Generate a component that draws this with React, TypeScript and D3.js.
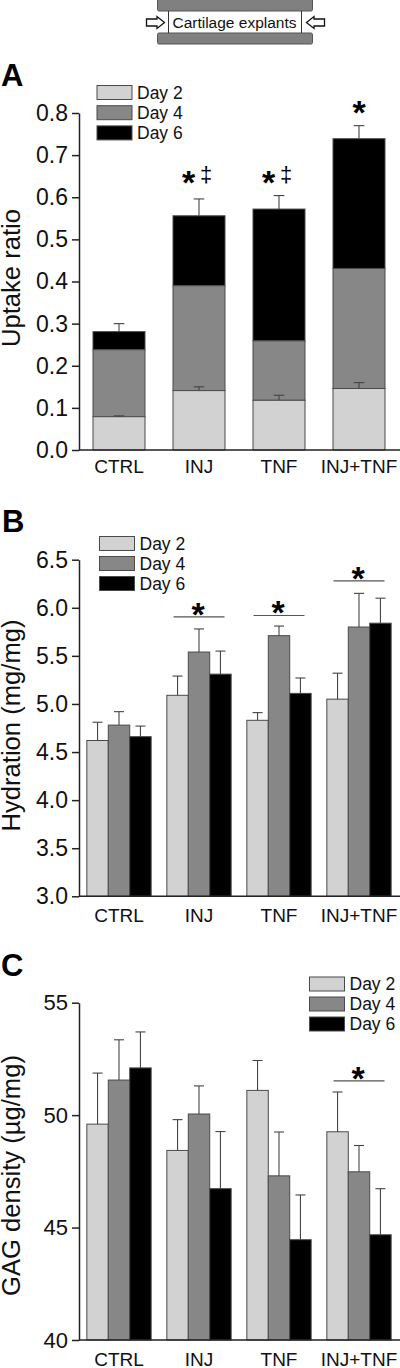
import React, { useEffect, useRef } from 'react';
import * as d3 from 'd3';

const groups = ['CTRL', 'INJ', 'TNF', 'INJ+TNF'];
const days = ['Day 2', 'Day 4', 'Day 6'];
const dayColors = ['#d2d2d2', '#878787', '#000000'];

// panel A, stacked. cumulative tops
const uptakeDay2Top = [0.079, 0.141, 0.118, 0.146];
const uptakeDay4Top = [0.238, 0.39, 0.259, 0.431];
const uptakeDay6Top = [0.281, 0.556, 0.572, 0.739];
const uptakeDay2Err = [0.081, 0.15, 0.13, 0.16];
const uptakeDay6Err = [0.3, 0.596, 0.604, 0.77];
const uptakeTicks = [0, 0.1, 0.2, 0.3, 0.4, 0.5, 0.6, 0.7, 0.8];

// panel B
const hydrationDay2 = [4.62, 5.09, 4.83, 5.05];
const hydrationDay4 = [4.78, 5.54, 5.71, 5.8];
const hydrationDay6 = [4.66, 5.31, 5.11, 5.84];
const hydrationDay2Err = [4.81, 5.29, 4.91, 5.32];
const hydrationDay4Err = [4.92, 5.78, 5.81, 6.15];
const hydrationDay6Err = [4.77, 5.55, 5.27, 6.1];
const hydrationTicks = [3, 3.5, 4, 4.5, 5, 5.5, 6, 6.5];
const hydrationSig = [
  { group: 'INJ', value: 5.906 },
  { group: 'TNF', value: 5.92 },
  { group: 'INJ+TNF', value: 6.28 },
];

// panel C
const gagDay2 = [49.6, 48.43, 51.1, 49.26];
const gagDay4 = [51.56, 50.05, 47.3, 47.48];
const gagDay6 = [52.1, 46.73, 44.46, 44.68];
const gagDay2Err = [51.87, 49.8, 52.43, 51.03];
const gagDay4Err = [53.35, 51.3, 49.25, 48.65];
const gagDay6Err = [53.7, 49.27, 46.45, 46.73];
const gagTicks = [40, 45, 50, 55];
const gagSig = [{ group: 'INJ+TNF', value: 51.52 }];

// markers over the stacked bars, value is where the glyph centre sits
const uptakeMarks = [
  { group: 'INJ', value: 0.648, dagger: true },
  { group: 'TNF', value: 0.648, dagger: true },
  { group: 'INJ+TNF', value: 0.815, dagger: false },
];

const FONT = '"Liberation Sans", Arial, sans-serif';
const AXIS = '#222';
const EDGE = '#4a4a4a';
const ERR = '#444';
const xRange = [79, 399];

function bandScale(pad) {
  return d3.scaleBand().domain(groups).range(xRange).paddingInner(pad).paddingOuter(pad / 2);
}

function drawAxes(svg, x, y, ticks, fmt, labelPad, tickFont) {
  const gy = svg.append('g')
    .attr('transform', `translate(${xRange[0]},0)`)
    .call(d3.axisLeft(y).tickValues(ticks).tickFormat(fmt).tickSize(7).tickSizeOuter(0).tickPadding(4));
  gy.selectAll('text').attr('font-size', tickFont).attr('font-family', FONT).attr('fill', '#111');

  const gx = svg.append('g')
    .attr('transform', `translate(0,${y.range()[0]})`)
    .call(d3.axisBottom(x).tickSize(0).tickSizeOuter(0).tickPadding(labelPad));
  gx.selectAll('text').attr('font-size', 19).attr('font-family', FONT).attr('fill', '#111');

  svg.selectAll('.domain, .tick line').attr('stroke', AXIS).attr('stroke-width', 1.5);
  gx.select('.domain').attr('d', `M${xRange[0]},0H400`);
}

function drawErrors(svg, xMid, y, base, tops, capHalf) {
  tops.forEach((t, i) => {
    const g = svg.append('g').attr('stroke', ERR).attr('stroke-width', 1.1);
    const cx = xMid(i);
    g.append('line').attr('x1', cx).attr('x2', cx).attr('y1', y(base[i])).attr('y2', y(t));
    g.append('line').attr('x1', cx - capHalf).attr('x2', cx + capHalf).attr('y1', y(t)).attr('y2', y(t));
  });
}

function drawLegend(svg, left, top, step) {
  days.forEach((d, i) => {
    svg.append('rect')
      .attr('x', left).attr('y', top + i * step)
      .attr('width', 35).attr('height', 14)
      .attr('fill', dayColors[i]).attr('stroke', EDGE).attr('stroke-width', 1);
    svg.append('text')
      .attr('x', left + 40).attr('y', top + i * step + 13)
      .attr('font-size', 17.5).attr('font-family', FONT).attr('fill', '#111')
      .text(d);
  });
}

function panelLetter(svg, letter, px, py) {
  svg.append('text').attr('x', px).attr('y', py)
    .attr('font-size', 31).attr('font-weight', 'bold').attr('font-family', FONT)
    .text(letter);
}

function yTitle(svg, text, px, py) {
  svg.append('text')
    .attr('transform', `translate(${px},${py}) rotate(-90)`)
    .attr('text-anchor', 'middle')
    .attr('font-size', 25.6).attr('font-family', FONT).attr('fill', '#111')
    .text(text);
}

// the asterisk sits high in its em box, so shift the baseline down to centre it
function star(svg, cx, cy) {
  svg.append('text').attr('x', cx).attr('y', cy + 17)
    .attr('text-anchor', 'middle')
    .attr('font-size', 34).attr('font-weight', 'bold').attr('font-family', FONT)
    .text('*');
}

function sigLines(svg, x, y, sig) {
  sig.forEach(s => {
    const cx = x(s.group) + x.bandwidth() / 2;
    svg.append('line')
      .attr('x1', cx - 25.5).attr('x2', cx + 25.5)
      .attr('y1', y(s.value)).attr('y2', y(s.value))
      .attr('stroke', '#555').attr('stroke-width', 1.2);
    star(svg, cx - 1, y(s.value) - 8);
  });
}

function drawGrouped(svg, x, y, series, errs) {
  const inner = d3.scaleBand().domain(days).range([0, x.bandwidth()]);
  series.forEach((values, s) => {
    values.forEach((v, i) => {
      svg.append('rect')
        .attr('x', x(groups[i]) + inner(days[s]))
        .attr('y', y(v))
        .attr('width', inner.bandwidth())
        .attr('height', y.range()[0] - y(v))
        .attr('fill', dayColors[s])
        .attr('stroke', EDGE).attr('stroke-width', 1);
    });
    drawErrors(svg, i => x(groups[i]) + inner(days[s]) + inner.bandwidth() / 2, y, values, errs[s], 5);
  });
}

function drawSchematic(svg) {
  [0, 33].forEach(top => {
    svg.append('rect').attr('x', 157.5).attr('y', top - (top ? 0 : 2)).attr('width', 155)
      .attr('height', top ? 11 : 13).attr('rx', 1.5)
      .attr('fill', '#808080').attr('stroke', '#555').attr('stroke-width', 1);
  });
  [168.5, 301.5].forEach(lx => {
    svg.append('line').attr('x1', lx).attr('x2', lx).attr('y1', 11).attr('y2', 33)
      .attr('stroke', '#333').attr('stroke-width', 1);
  });
  svg.append('text').attr('x', 234.5).attr('y', 27.5).attr('text-anchor', 'middle')
    .attr('font-size', 15.5).attr('font-family', FONT).attr('fill', '#111')
    .text('Cartilage explants');
  svg.append('path')
    .attr('d', 'M146.5,19H157V16.5L164.5,22.5L157,28.5V26H146.5Z')
    .attr('fill', '#fff').attr('stroke', '#111').attr('stroke-width', 1.3);
  svg.append('path')
    .attr('d', 'M324.5,19H314V16.5L306.5,22.5L314,28.5V26H324.5Z')
    .attr('fill', '#fff').attr('stroke', '#111').attr('stroke-width', 1.3);
}

const App = () => {
  const ref = useRef(null);

  useEffect(() => {
    const svg = d3.select(ref.current);
    svg.selectAll('*').remove();

    drawSchematic(svg);

    // A
    const xA = bandScale(0.35);
    const yA = d3.scaleLinear().domain([0, 0.8]).range([450, 113]);
    const stacks = [uptakeDay2Top, uptakeDay4Top, uptakeDay6Top];
    const midA = i => xA(groups[i]) + xA.bandwidth() / 2;
    [2, 1, 0].forEach(s => {
      stacks[s].forEach((v, i) => {
        const low = s === 0 ? 0 : stacks[s - 1][i];
        svg.append('rect')
          .attr('x', xA(groups[i])).attr('y', yA(v))
          .attr('width', xA.bandwidth()).attr('height', yA(low) - yA(v))
          .attr('fill', dayColors[s]).attr('stroke', EDGE).attr('stroke-width', 1);
      });
    });
    drawErrors(svg, midA, yA, uptakeDay2Top, uptakeDay2Err, 5.3);
    drawErrors(svg, midA, yA, uptakeDay6Top, uptakeDay6Err, 5.3);
    drawAxes(svg, xA, yA, uptakeTicks, d3.format('.1f'), 9.5, 23);
    uptakeMarks.forEach(m => {
      const cx = xA(m.group) + xA.bandwidth() / 2;
      star(svg, m.dagger ? cx - 10.5 : cx, yA(m.value));
      if (m.dagger) {
        svg.append('text').attr('x', cx + 7).attr('y', yA(m.value) + 5)
          .attr('text-anchor', 'middle')
          .attr('font-size', 22).attr('font-family', FONT).attr('fill', '#000')
          .style('text-rendering', 'geometricPrecision')
          .text('‡');
      }
    });
    drawLegend(svg, 97, 85.5, 20.2);
    panelLetter(svg, 'A', 1, 85.5);
    yTitle(svg, 'Uptake ratio', 20, 278);

    // B
    const xB = bandScale(0.196);
    const yB = d3.scaleLinear().domain([3, 6.5]).range([896.3, 559.7]);
    drawGrouped(svg, xB, yB,
      [hydrationDay2, hydrationDay4, hydrationDay6],
      [hydrationDay2Err, hydrationDay4Err, hydrationDay6Err]);
    drawAxes(svg, xB, yB, hydrationTicks, d3.format('.1f'), 12, 23);
    sigLines(svg, xB, yB, hydrationSig);
    drawLegend(svg, 99.5, 536.5, 20);
    panelLetter(svg, 'B', 2, 532);
    yTitle(svg, 'Hydration (mg/mg)', 20, 725.5);

    // C
    const xC = bandScale(0.196);
    const yC = d3.scaleLinear().domain([40, 55]).range([1340, 1002.7]);
    drawGrouped(svg, xC, yC,
      [gagDay2, gagDay4, gagDay6],
      [gagDay2Err, gagDay4Err, gagDay6Err]);
    drawAxes(svg, xC, yC, gagTicks, d3.format('d'), 12.5, 22);
    sigLines(svg, xC, yC, gagSig);
    drawLegend(svg, 309.5, 977, 20);
    panelLetter(svg, 'C', 1, 975.5);
    yTitle(svg, 'GAG density (µg/mg)', 20, 1175.5);
  }, []);

  return <svg ref={ref} width={400} height={1368} style={{ position: 'absolute', left: 0, top: 0, background: '#fff' }} />;
};

export default App;
